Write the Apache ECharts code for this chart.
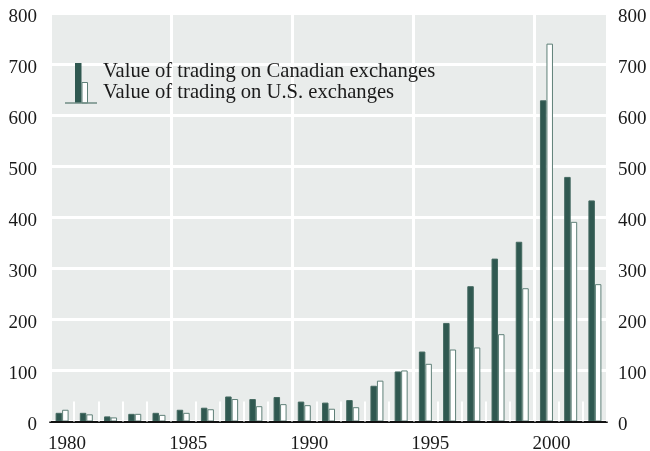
<!DOCTYPE html>
<html>
<head>
<meta charset="utf-8">
<script src="https://cdn.jsdelivr.net/npm/echarts@6/dist/echarts.min.js"></script>
<style>
  html, body { margin: 0; padding: 0; background: #fff; }
  #chart { width: 650px; height: 451px; }
</style>
</head>
<body>
<div id="chart"></div>
<script>
// years on the x axis
const years = ['1980', '1981', '1982', '1983', '1984', '1985', '1986', '1987', '1988', '1989', '1990',
  '1991', '1992', '1993', '1994', '1995', '1996', '1997', '1998', '1999', '2000', '2001', '2002']
// value of trading
const canadian = [17, 17, 10, 15, 17, 23, 27, 49, 44, 48, 39, 37, 42, 70, 98, 137, 193, 265, 319, 352, 629, 479, 433]
const usExch = [23, 14, 8, 15, 13, 17, 24, 44, 30, 34, 32, 25, 28, 80, 100, 113, 141, 145, 171, 261, 740, 391, 269]
const yTicks = [0, 100, 200, 300, 400, 500, 600, 700, 800]

const seriesNames = ['Value of trading on Canadian exchanges', 'Value of trading on U.S. exchanges']

const font = 'Liberation Serif'
const dark = '#2f5850'

const chart = echarts.init(document.getElementById('chart'))

const yCommon = {
  type: 'value',
  min: yTicks[0],
  max: yTicks[yTicks.length - 1],
  interval: 100,
  axisLine: { show: false },
  axisTick: { show: false },
}

// labels sit a little below their gridline in the original
const yLabel = { fontFamily: font, fontSize: 19, color: '#1a1a1a', verticalAlign: 'top', lineHeight: 8 }

chart.setOption({
  animation: false,
  backgroundColor: '#fff',
  grid: {
    left: 50, right: 43, top: 13, bottom: 29.5,
    outerBoundsMode: 'none',
    show: true, backgroundColor: '#e9eceb', borderWidth: 0
  },
  legend: {
    data: seriesNames,
    orient: 'vertical',
    left: 93, top: 56,
    z: 20,
    icon: 'none',
    itemWidth: 0, itemHeight: 20, itemGap: 0,
    selectedMode: false,
    textStyle: { fontFamily: font, fontSize: 20.6, color: '#1a1a1a', lineHeight: 20 }
  },
  xAxis: [
    {
      type: 'category',
      data: years,
      z: 5,
      axisLine: { lineStyle: { color: '#111', width: 2 } },
      axisTick: { show: true, inside: true, length: 20, interval: 0, lineStyle: { color: '#fff', width: 2 } },
      axisLabel: {
        interval: (i) => i % 5 === 0,
        fontFamily: font, fontSize: 19, color: '#1a1a1a',
        margin: 13, padding: [0, 0, 0, 10]
      },
      splitLine: { show: true, interval: (i) => i % 5 === 0, lineStyle: { color: '#fff', width: 3 } }
    },
    {
      type: 'category',
      data: years,
      position: 'top',
      axisLine: { show: false },
      axisTick: { show: true, inside: true, length: 20, interval: 0, lineStyle: { color: '#fff', width: 2 } },
      axisLabel: { show: false },
      splitLine: { show: false }
    }
  ],
  yAxis: [
    Object.assign({}, yCommon, {
      position: 'left',
      z: 0,
      axisLabel: Object.assign({ margin: 13 }, yLabel),
      splitLine: { show: true, lineStyle: { color: '#fff', width: 3 } }
    }),
    Object.assign({}, yCommon, {
      position: 'right',
      z: 0,
      axisLabel: Object.assign({ margin: 11 }, yLabel),
      splitLine: { show: false }
    })
  ],
  series: [
    {
      name: seriesNames[0],
      type: 'bar',
      data: canadian,
      barWidth: 6.5,
      barGap: '0%',
      itemStyle: { color: dark, borderColor: '#456a61', borderWidth: 1 }
    },
    {
      name: seriesNames[1],
      type: 'bar',
      data: usExch,
      barWidth: 6.5,
      itemStyle: { color: '#fff', borderColor: '#5f8078', borderWidth: 1 }
    }
  ],
  graphic: [
    // legend key: tall dark bar, short white bar, baseline
    { type: 'rect', shape: { x: 75, y: 63, width: 6.5, height: 40 }, style: { fill: dark }, z: 10 },
    { type: 'rect', shape: { x: 82, y: 82.5, width: 5.5, height: 20.5 }, style: { fill: '#fff', stroke: '#5f8078', lineWidth: 1 }, z: 10 },
    { type: 'line', shape: { x1: 65, y1: 103, x2: 97, y2: 103 }, style: { stroke: '#6f8c85', lineWidth: 1.5 }, z: 11 }
  ]
})
</script>
</body>
</html>
